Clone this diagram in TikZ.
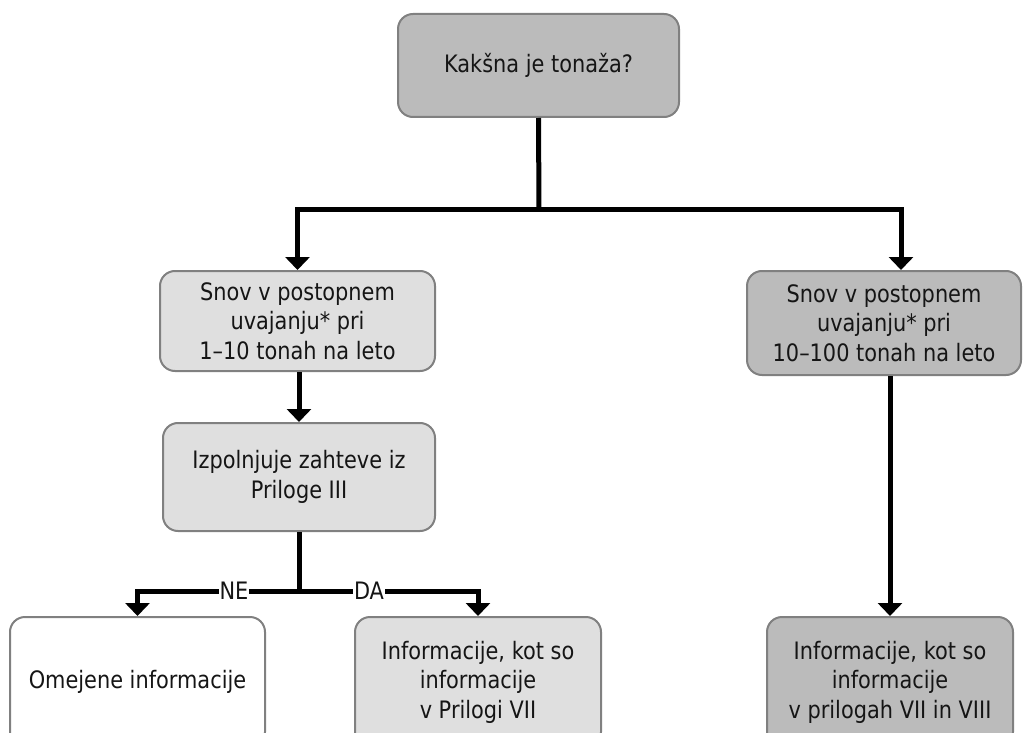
\documentclass[tikz,border=0pt]{standalone}
\usepackage{fontspec}
\setmainfont{DejaVu Sans}[FakeStretch=0.87]
\usetikzlibrary{arrows.meta}
\definecolor{boxdark}{HTML}{BBBBBB}
\definecolor{boxlight}{HTML}{DFDFDF}
\definecolor{boxedge}{HTML}{808080}
\definecolor{ink}{HTML}{151515}
\begin{document}
\begin{tikzpicture}[x=1pt,y=-1pt,
  box/.style={draw=boxedge, line width=2pt, rounded corners=15pt, align=center,
    font=\fontsize{24}{29.5}\selectfont, text=ink, inner sep=0pt},
  conn/.style={line width=5pt},
  arr/.style={conn, -{Triangle[width=24pt,length=13pt]}},
  lbl/.style={fill=white, inner sep=1pt, text=ink, font=\fontsize{24}{28}\selectfont}]
\useasboundingbox (0,0) rectangle (1023,733);
\clip (0,0) rectangle (1023,733);

% boxes
\node[box, fill=boxdark, minimum width=281pt, minimum height=103pt] (T) at (538.5,65.5) {Kakšna je tonaža?};
\node[box, fill=boxlight, minimum width=275pt, minimum height=100pt] (A) at (297.5,321)
  {Snov v postopnem\\uvajanju* pri\\1–10 tonah na leto};
\node[box, fill=boxdark, minimum width=274pt, minimum height=104pt] (B) at (884,323)
  {Snov v postopnem\\uvajanju* pri\\10–100 tonah na leto};
\node[box, fill=boxlight, minimum width=272pt, minimum height=108pt] (C) at (299,477)
  {Izpolnjuje zahteve iz\\Priloge III};
\node[box, fill=white, minimum width=255pt, minimum height=130pt] (D) at (137.5,682)
  {Omejene informacije};
\node[box, fill=boxlight, minimum width=246pt, minimum height=130pt] (E) at (478,682)
  {Informacije, kot so\\informacije\\v Prilogi VII};
\node[box, fill=boxdark, minimum width=246pt, minimum height=130pt] (F) at (890,682)
  {Informacije, kot so\\informacije\\v prilogah VII in VIII};

% junction points
\coordinate (j1) at (539,209);
\coordinate (j2) at (299,591);
\coordinate (bIn) at (901,271);

% connectors
\draw[conn] (T.south) -- (j1);
\draw[arr] (j1) -| (A.north);
\draw[arr] (j1) -| (bIn |- B.north);
\draw[arr] (C.north |- A.south) -- (C.north);
\draw[arr] (F.north |- B.south) -- (F.north);
\draw[conn] (C.south) -- (j2);
\draw[arr] (j2) -| (D.north);
\draw[arr] (j2) -| (E.north);

% branch labels
\node[lbl] (ne) at (234,591) {NE};
\node[lbl] (da) at (369,591) {DA};
\end{tikzpicture}
\end{document}
